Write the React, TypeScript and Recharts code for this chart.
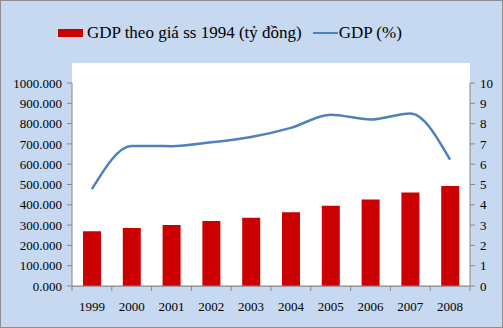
import React from "react";
import { ComposedChart, Bar, Line, XAxis, YAxis, CartesianGrid, Legend } from "recharts";

const years = ["1999", "2000", "2001", "2002", "2003", "2004", "2005", "2006", "2007", "2008"];
const gdpValue = [270, 286, 300, 320, 336, 363, 395, 426, 461, 493];
const gdpGrowth = [4.77, 6.9, 6.89, 7.08, 7.34, 7.79, 8.44, 8.2, 8.5, 6.22];
const leftTicks = [0, 100, 200, 300, 400, 500, 600, 700, 800, 900, 1000];
const rightTicks = [0, 1, 2, 3, 4, 5, 6, 7, 8, 9, 10];

const data = years.map((y, i) => ({ year: y, value: gdpValue[i], growth: gdpGrowth[i] }));

const FONT = "Times New Roman, Liberation Serif, DejaVu Serif, serif";
const BAND = 398 / years.length;

const XTick = (props: any) => {
  const { x, y, payload, index } = props;
  return (
    <g>
      <line x1={x - BAND / 2} x2={x - BAND / 2} y1={y - 8} y2={y - 3} stroke="#888" />
      {index === years.length - 1 && (
        <line x1={x + BAND / 2} x2={x + BAND / 2} y1={y - 8} y2={y - 3} stroke="#888" />
      )}
      <text x={x} y={y + 17} textAnchor="middle" style={{ fontFamily: FONT }} fontSize={13} fill="#000">
        {payload.value}
      </text>
    </g>
  );
};

const LegendContent = () => (
  <div style={{ display: "flex", alignItems: "center", fontFamily: FONT, fontSize: 17, color: "#000", whiteSpace: "nowrap" }}>
    <span style={{ display: "inline-block", width: 25, height: 8, background: "#CC0000", marginRight: 4 }} />
    <span>GDP theo giá ss 1994 (tỷ đồng)</span>
    <span style={{ display: "inline-block", width: 25, height: 2.5, background: "#4F81BD", marginLeft: 11, marginRight: 1 }} />
    <span>GDP (%)</span>
  </div>
);

export default function App() {
  return (
    <div style={{ position: "fixed", top: 0, left: 0, width: 501, height: 326, background: "#C6D9F0", border: "1px solid #8E8E8E", fontFamily: FONT }}>
      <ComposedChart
        width={501}
        height={326}
        data={data}
        margin={{ top: 62, right: 0, bottom: 0, left: 0 }}
        style={{ fontFamily: FONT }}
      >
        <rect x={71} y={62} width={398} height={223} fill="#FFFFFF" />
        <CartesianGrid vertical={false} stroke="#8A8A8A" yAxisId="left" />
        <XAxis
          dataKey="year"
          height={41}
          axisLine={{ stroke: "#888" }}
          tickLine={false}
          tick={<XTick />}
          interval={0}
        />
        <YAxis
          yAxisId="left"
          orientation="left"
          width={71}
          domain={[0, 1000]}
          ticks={leftTicks}
          interval={0}
          axisLine={{ stroke: "#888" }}
          tickLine={{ stroke: "#888" }}
          tickSize={5}
          tickMargin={5}
          tickFormatter={(v: number) => v.toFixed(3)}
          tick={{ fontSize: 13, fill: "#000", style: { fontFamily: FONT } }}
        />
        <YAxis
          yAxisId="right"
          orientation="right"
          width={32}
          domain={[0, 10]}
          ticks={rightTicks}
          interval={0}
          axisLine={{ stroke: "#888" }}
          tickLine={{ stroke: "#888" }}
          tickSize={5}
          tickMargin={5}
          tick={{ fontSize: 13, fill: "#000", style: { fontFamily: FONT } }}
        />
        <Legend
          verticalAlign="top"
          align="left"
          content={<LegendContent />}
          wrapperStyle={{ top: 22, left: 57, width: "auto" }}
        />
        <Bar yAxisId="left" dataKey="value" fill="#CC0000" barSize={18} isAnimationActive={false} />
        <Line
          yAxisId="right"
          dataKey="growth"
          type="monotone"
          stroke="#4F81BD"
          strokeWidth={2.5}
          dot={false}
          isAnimationActive={false}
        />
      </ComposedChart>
    </div>
  );
}
